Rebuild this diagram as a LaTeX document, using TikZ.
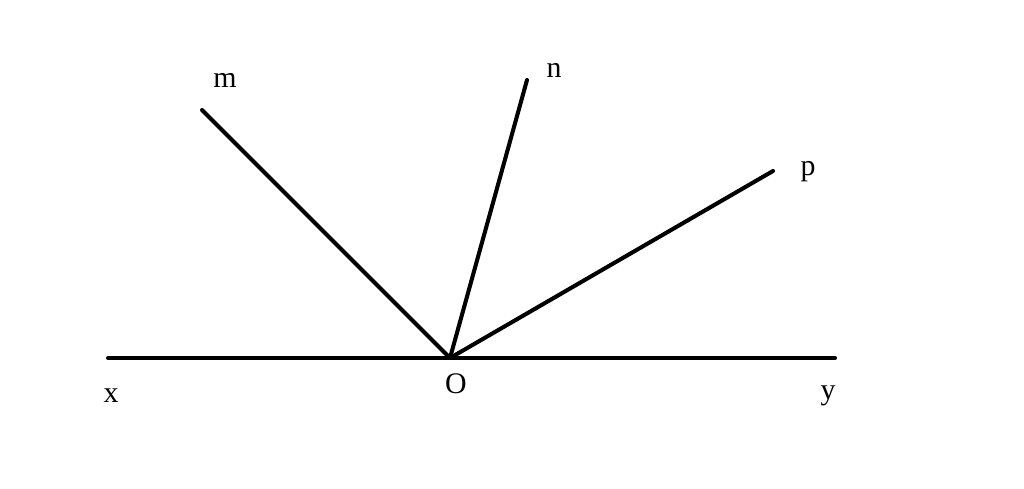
\documentclass[tikz,border=0pt]{standalone}
\usepackage{fontspec}
\setmainfont{Liberation Serif}
\begin{document}
\begin{tikzpicture}[x=0.02cm,y=-0.02cm,
  ray/.style={line width=2.3pt,line cap=round},
  lbl/.style={font=\fontsize{17}{20}\selectfont,inner sep=0pt}]
\useasboundingbox[fill=white] (0,0) rectangle (1024,488);
\coordinate (O) at (450,358);
\coordinate (X) at (108,358);
\coordinate (Y) at (835,358);
\coordinate (M) at (202,110);
\coordinate (N) at (527,80);
\coordinate (P) at (773,171);
\draw[ray] (X) -- (Y);
\draw[ray] (O) -- (M);
\draw[ray] (O) -- (N);
\draw[ray] (O) -- (P);
\node[lbl] (lm) at (225,80) {m};
\node[lbl] (ln) at (554,70) {n};
\node[lbl] (lp) at (808,172) {p};
\node[lbl] (lx) at (111,396) {x};
\node[lbl] (lo) at (456,384) {O};
\node[lbl] (ly) at (828,396) {y};
\end{tikzpicture}
\end{document}
